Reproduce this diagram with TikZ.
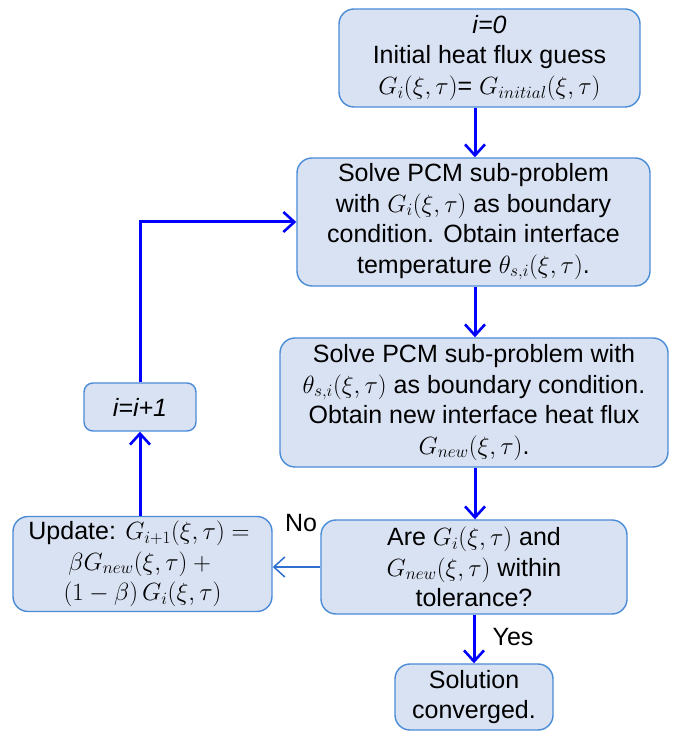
\documentclass[tikz,border=0pt]{standalone}
\usepackage{fontspec}
\setmainfont{Liberation Sans}
\usetikzlibrary{arrows.meta,calc}
\definecolor{boxfill}{HTML}{D9E2F3}
\definecolor{boxedge}{HTML}{4A8BD6}
\definecolor{flow}{HTML}{0000FF}
\definecolor{thinflow}{HTML}{2F6FD0}
\tikzset{
  stage/.style={draw=boxedge, fill=boxfill, line width=1.4pt, rounded corners=15pt,
    align=center, inner sep=0pt, font=\fontsize{25}{30.5}\selectfont},
  flowarrow/.style={draw=flow, line width=3pt,
    -{Straight Barb[length=11pt,width=20pt,line width=2.6pt]}},
  backarrow/.style={draw=thinflow, line width=1.5pt,
    -{Straight Barb[length=11pt,width=20pt,line width=1.5pt]}},
  lbl/.style={font=\fontsize{25}{30}\selectfont, inner sep=0pt}
}
\begin{document}
\begin{tikzpicture}[x=1pt,y=1pt]
\useasboundingbox (0,0) rectangle (675,731);

% process stages
\node[stage, minimum width=301pt, minimum height=98pt] (init) at (489.5,673)
  {\textit{i=0}\\ Initial heat flux guess\\ $G_i(\xi,\tau)$= $G_{initial}(\xi,\tau)$};
\node[stage, minimum width=353pt, minimum height=128pt] (solveA) at (473.5,509)
  {Solve PCM sub-problem\\ with $G_i(\xi,\tau)$ as boundary\\ condition. Obtain interface\\ temperature $\theta_{s,i}(\xi,\tau)$.};
\node[stage, minimum width=388pt, minimum height=129pt] (solveB) at (474,328.5)
  {Solve PCM sub-problem with\\ $\theta_{s,i}(\xi,\tau)$ as boundary condition.\\ Obtain new interface heat flux\\ $G_{new}(\xi,\tau)$.};
\node[stage, minimum width=306pt, minimum height=94pt] (check) at (474,164)
  {Are $G_i(\xi,\tau)$ and\\ $G_{new}(\xi,\tau)$ within\\ tolerance?};
\node[stage, minimum width=158pt, minimum height=66pt] (done) at (474,34)
  {Solution\\ converged.};
\node[stage, minimum width=259pt, minimum height=95pt] (update) at (142.5,167)
  {Update: $G_{i+1}(\xi,\tau)={}$\\ $\beta G_{new}(\xi,\tau)+{}$\\ $(1-\beta)\,G_i(\xi,\tau)$};
\node[stage, minimum width=112pt, minimum height=48pt, rounded corners=9pt] (incr) at (140,324)
  {\textit{i=i+1}};

% vertical guide for the main column of arrows
\coordinate (col) at (475,0);

% main flow
\draw[flowarrow] (init.south -| col) -- (solveA.north -| col);
\draw[flowarrow] (solveA.south -| col) -- (solveB.north -| col);
\draw[flowarrow] (solveB.south -| col) -- (check.north -| col);
\draw[flowarrow] (check.south) -- (done.north);

% iteration loop
\draw[backarrow] (check.west) -- (update.east |- check.west);
\draw[flowarrow] (update.north -| incr.south) -- (incr.south);
\draw[flowarrow] (incr.north) |- (solveA.west);

% branch labels
\node[lbl] (no) at (301,208) {No};
\node[lbl] (yes) at (513,94) {Yes};
\end{tikzpicture}
\end{document}
